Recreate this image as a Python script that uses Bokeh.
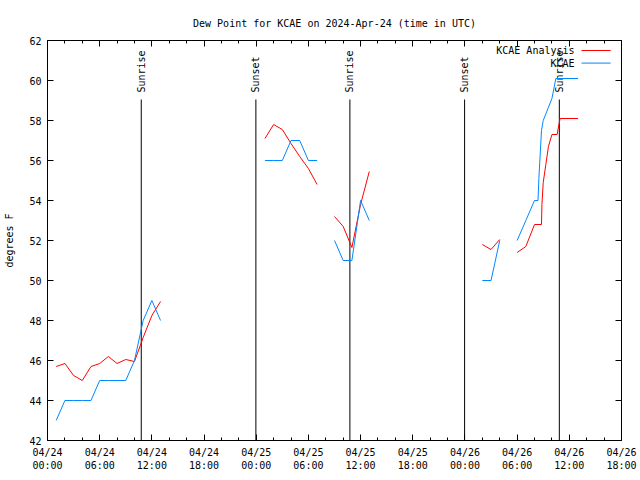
import math
from bokeh.plotting import figure
from bokeh.models import FixedTicker, LinearAxis, Range1d, CustomLabelingPolicy
from bokeh.core.properties import value
from bokeh.embed import file_html
from bokeh.resources import INLINE

nan = float("nan")

# x is hours since 2024-04-24 00:00 UTC
tick_hours = [0, 6, 12, 18, 24, 30, 36, 42, 48, 54, 60, 66]
tick_labels = ["04/24\n00:00", "04/24\n06:00", "04/24\n12:00", "04/24\n18:00",
               "04/25\n00:00", "04/25\n06:00", "04/25\n12:00", "04/25\n18:00",
               "04/26\n00:00", "04/26\n06:00", "04/26\n12:00", "04/26\n18:00"]
minor_hours = list(range(0, 67, 2))
y_ticks = [42, 44, 46, 48, 50, 52, 54, 56, 58, 60, 62]

analysis_hours = [1, 2, 3, 4, 5, 6, 7, 8, 9, 10, 11, 12, 13, nan,
                  25, 26, 27, 28, 29, 30, 31, nan,
                  33, 34, 35, 36, 37, nan,
                  50, 51, 52, nan,
                  54, 55, 56, 56.8, 56.85, 57.0, 57.3, 57.6, 58.0, 58.6, 58.8, 58.95, 61.0]
analysis_dewpt = [45.7, 45.85, 45.25, 45.0, 45.7, 45.85, 46.2, 45.85, 46.05, 45.95, 47.15, 48.25, 48.95, nan,
                  57.1, 57.8, 57.55, 56.85, 56.2, 55.6, 54.8, nan,
                  53.2, 52.7, 51.65, 53.8, 55.45, nan,
                  51.8, 51.55, 52.05, nan,
                  51.4, 51.7, 52.8, 52.8, 53.8, 54.9, 55.8, 56.7, 57.3, 57.3, 57.8, 58.1, 58.1]

obs_hours = [1, 2, 3, 4, 5, 6, 7, 8, 9, 10, 11, 12, 13, nan,
             25, 26, 27, 28, 29, 30, 31, nan,
             33, 34, 35, 36, 37, nan,
             50, 51, 52, nan,
             54, 55, 56, 56.4, 56.5, 56.6, 56.8, 57.0, 58.0, 58.45, 61.0]
obs_dewpt = [43, 44, 44, 44, 44, 45, 45, 45, 45, 46, 48, 49, 48, nan,
             56, 56, 56, 57, 57, 56, 56, nan,
             52, 51, 51, 54, 53, nan,
             50, 50, 52, nan,
             52, 53, 54, 54, 55.1, 55.9, 57.5, 58.0, 59.1, 60.1, 60.1]

sun_hours = [10.78, 23.96, 34.77, 47.96, 58.85]
sun_labels = ["Sunrise", "Sunset", "Sunrise", "Sunset", "Sunrise"]

FONT = value("DejaVu Sans Mono")
RED = "#ff0000"
BLUE = "#0088ff"

p = figure(width=640, height=480, x_range=Range1d(0, 66), y_range=Range1d(42, 62),
           output_backend="svg", toolbar_location=None,
           min_border_left=47, min_border_right=19, min_border_top=40, min_border_bottom=40,
           title="Dew Point for KCAE on 2024-Apr-24 (time in UTC)")
p.title.align = "center"
p.title.text_font = "DejaVu Sans Mono"
p.title.text_font_size = "10px"
p.title.text_font_style = "normal"
p.title.text_color = "black"
p.title.standoff = 24
p.grid.visible = False
p.outline_line_color = "black"
p.outline_line_alpha = 1.0
p.background_fill_color = "white"
p.border_fill_color = "white"

xt = FixedTicker(ticks=tick_hours, minor_ticks=minor_hours)
yt = FixedTicker(ticks=y_ticks, minor_ticks=[])

no_labels = CustomLabelingPolicy(code="""
try {
  const out = indices.clone();
  for (const i of Array.from(indices.ones())) { out.unset(i); }
  return out;
} catch (e) {
  return indices;
}
""")

bottom_axis = p.below[0]
left_axis = p.left[0]
top_axis = LinearAxis(major_label_policy=no_labels)
right_axis = LinearAxis(major_label_policy=no_labels)
p.add_layout(top_axis, "above")
p.add_layout(right_axis, "right")

for ax in [bottom_axis, top_axis]:
    ax.ticker = xt
    ax.minor_tick_in = 3
    ax.minor_tick_out = 0
for ax in [left_axis, right_axis]:
    ax.ticker = yt
    ax.minor_tick_in = 0
    ax.minor_tick_out = 0
for ax in [bottom_axis, top_axis, left_axis, right_axis]:
    ax.axis_line_color = None
    ax.major_tick_in = 6
    ax.major_tick_out = 0
    ax.major_tick_line_color = "black"
    ax.minor_tick_line_color = "black"
    ax.major_label_text_font = "DejaVu Sans Mono"
    ax.major_label_text_font_size = "10px"
    ax.major_label_text_color = "black"
    ax.major_label_standoff = 6
for ax in [top_axis, right_axis]:
    ax.major_label_text_font_size = "0px"
    ax.major_label_standoff = 0

bottom_axis.major_label_overrides = dict(zip(tick_hours, tick_labels))
left_axis.axis_label = "degrees F"
left_axis.axis_label_text_font = "DejaVu Sans Mono"
left_axis.axis_label_text_font_size = "10px"
left_axis.axis_label_text_font_style = "normal"
left_axis.axis_label_text_color = "black"
left_axis.axis_label_standoff = 11

# sunrise / sunset markers
p.segment(x0=sun_hours, y0=[42] * len(sun_hours), x1=sun_hours, y1=[59.05] * len(sun_hours),
          line_color="black", line_width=1)
p.text(x=sun_hours, y=[59.4] * len(sun_hours), text=sun_labels, angle=math.pi / 2,
       text_align="left", text_baseline="middle", text_font=FONT,
       text_font_size="10px", text_color="black")

# data
p.line(analysis_hours, analysis_dewpt, line_color=RED, line_width=1)
p.line(obs_hours, obs_dewpt, line_color=BLUE, line_width=1)

# legend (gnuplot style: label then sample)
p.text(x=[60.6, 60.6], y=[61.5, 60.87], text=["KCAE Analysis", "KCAE"],
       text_align="right", text_baseline="middle", text_font=FONT,
       text_font_size="10px", text_color="black")
p.segment(x0=[61.4, 61.4], y0=[61.5, 60.87], x1=[64.75, 64.75], y1=[61.5, 60.87],
          line_color=[RED, BLUE], line_width=1)

open("out.html", "w").write(file_html(p, INLINE))
